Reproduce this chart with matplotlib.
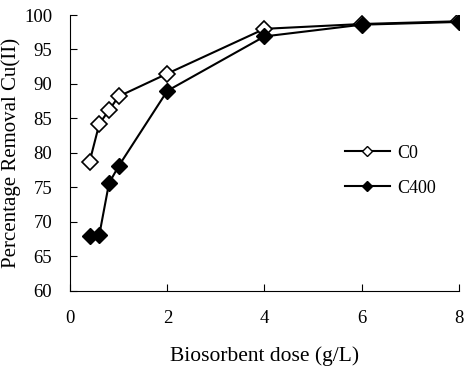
import matplotlib.pyplot as plt
from matplotlib.lines import Line2D

plt.rcParams['font.family'] = ['Liberation Serif', 'DejaVu Serif']

dose = [0.4, 0.6, 0.8, 1.0, 2, 4, 6, 8]
c0 = [78.7, 84.2, 86.2, 88.2, 91.5, 98.0, 98.7, 99.1]
c400 = [67.9, 68.1, 75.6, 78.1, 89.0, 96.9, 98.6, 99.0]

fig = plt.figure(figsize=(4.74, 3.67), dpi=100)
ax = fig.add_axes([0.148, 0.208, 0.82, 0.751])

ax.plot(dose, c0, color='black', lw=1.5, marker='D', ms=8.5, mfc='white', mec='black', mew=1.2, zorder=3)
ax.plot(dose, c400, color='black', lw=1.5, marker='D', ms=8.5, mfc='black', mec='black', zorder=3)

ax.set_xlim(0, 8)
ax.set_ylim(60, 100)
ax.set_xticks([0, 2, 4, 6, 8])
ax.set_yticks(range(60, 101, 5))
ax.spines['top'].set_visible(False)
ax.spines['right'].set_visible(False)
ax.tick_params(direction='in', length=5, labelsize=13.5)
ax.tick_params(axis='x', pad=14)
ax.tick_params(axis='y', pad=13)
ax.set_xlabel('Biosorbent dose (g/L)', fontsize=15.5, labelpad=14)
ax.set_ylabel('Percentage Removal Cu(II)', fontsize=15, labelpad=2)

handles = [
    Line2D([], [], color='black', lw=1.5, marker='D', ms=5, mfc='white', mec='black'),
    Line2D([], [], color='black', lw=1.5, marker='D', ms=5, mfc='black', mec='black'),
]
ax.legend(handles, ['C0', 'C400'], loc='center left', bbox_to_anchor=(0.665, 0.435),
          frameon=False, fontsize=13, handlelength=2.5, labelspacing=1.0, handletextpad=0.4)

fig.savefig('out.png', dpi=100)
